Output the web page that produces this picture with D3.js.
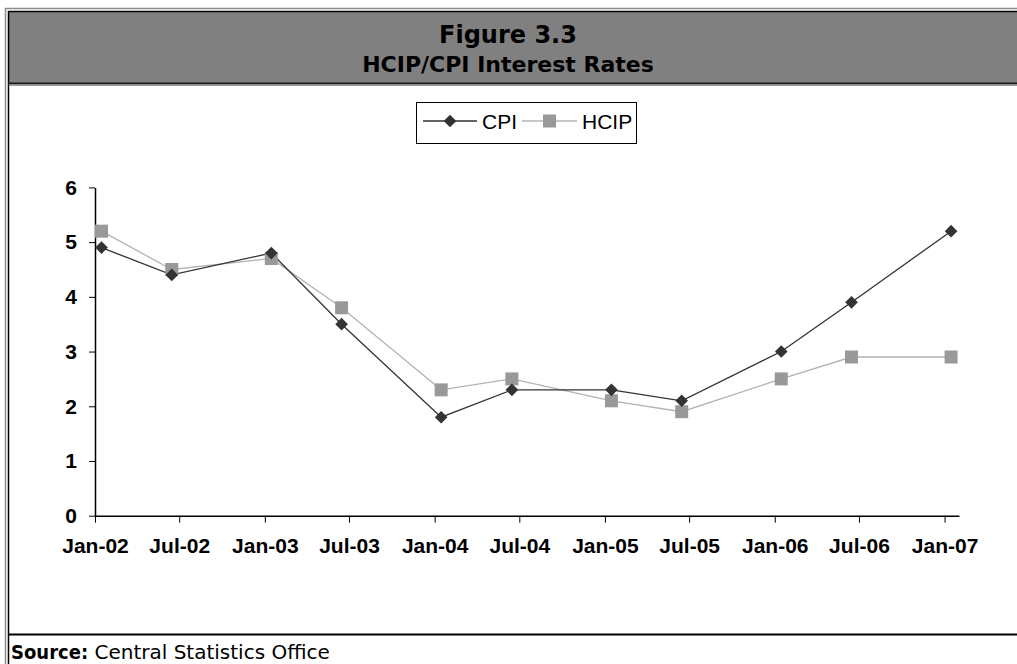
<!DOCTYPE html>
<html>
<head>
<meta charset="utf-8">
<script src="https://cdn.jsdelivr.net/npm/d3@7"></script>
<style>
  body { margin: 0; background: #fff; }
</style>
</head>
<body>
<div id="chart"></div>
<script>
//***************** data *******************/
// observation dates (mid-month readings)
var obsDates = ["2002-01-15","2002-06-15","2003-01-15","2003-06-15","2004-01-15","2004-06-15",
                "2005-01-15","2005-06-15","2006-01-15","2006-06-15","2007-01-15"];
var cpiValues  = [4.9, 4.4, 4.8, 3.5, 1.8, 2.3, 2.3, 2.1, 3.0, 3.9, 5.2];
var hcipValues = [5.2, 4.5, 4.7, 3.8, 2.3, 2.5, 2.1, 1.9, 2.5, 2.9, 2.9];

var tickDates  = ["2002-01-01","2002-07-01","2003-01-01","2003-07-01","2004-01-01","2004-07-01",
                  "2005-01-01","2005-07-01","2006-01-01","2006-07-01","2007-01-01"];
var tickLabels = ["Jan-02","Jul-02","Jan-03","Jul-03","Jan-04","Jul-04",
                  "Jan-05","Jul-05","Jan-06","Jul-06","Jan-07"];
var yTicks = [0, 1, 2, 3, 4, 5, 6];

var seriesNames = ["CPI", "HCIP"];

var parse = d3.timeParse("%Y-%m-%d");

var cpi  = obsDates.map(function(d, i) { return {date: parse(d), value: cpiValues[i]}; });
var hcip = obsDates.map(function(d, i) { return {date: parse(d), value: hcipValues[i]}; });

//************* set dimensions ***************/
var W = 1017, H = 664;
var plot = {left: 95, right: 959, top: 187.4, bottom: 515.7};

var svg = d3.select("#chart")
  .append("svg")
    .attr("width", W)
    .attr("height", H);

//***************** frame *******************/
svg.append("rect")
  .attr("x", 9).attr("y", 12)
  .attr("width", W - 9).attr("height", 71)
  .attr("fill", "#808080");

// outer grey + inner black double border
svg.append("path")
  .attr("d", "M5.5," + H + "V8.5H" + W)
  .attr("fill", "none").attr("stroke", "#8c8c8c").attr("stroke-width", 1.5);
svg.append("path")
  .attr("d", "M8.5," + H + "V11.5H" + W)
  .attr("fill", "none").attr("stroke", "#000").attr("stroke-width", 1.5);

// band bottom rule
svg.append("line")
  .attr("x1", 8).attr("x2", W).attr("y1", 83.5).attr("y2", 83.5)
  .attr("stroke", "#1a1a1a").attr("stroke-width", 2);
svg.append("line")
  .attr("x1", 9).attr("x2", W).attr("y1", 85.5).attr("y2", 85.5)
  .attr("stroke", "#9a9a9a").attr("stroke-width", 1);

// footer rule
svg.append("line")
  .attr("x1", 8).attr("x2", W).attr("y1", 634.5).attr("y2", 634.5)
  .attr("stroke", "#000").attr("stroke-width", 2);

//***************** title *******************/
var titleFont = "'DejaVu Sans', sans-serif";
svg.append("text")
  .attr("x", 508).attr("y", 43)
  .attr("text-anchor", "middle")
  .attr("font-family", titleFont)
  .attr("font-weight", "bold")
  .attr("font-size", "24px")
  .attr("fill", "#000")
  .text("Figure 3.3");
svg.append("text")
  .attr("x", 508).attr("y", 72)
  .attr("text-anchor", "middle")
  .attr("font-family", titleFont)
  .attr("font-weight", "bold")
  .attr("font-size", "22px")
  .attr("fill", "#000")
  .text("HCIP/CPI Interest Rates");

// source
var src = svg.append("text")
  .attr("x", 11).attr("y", 659)
  .attr("font-family", titleFont)
  .attr("font-size", "20px")
  .attr("fill", "#000");
src.append("tspan")
  .attr("font-family", "'DejaVu Sans Condensed', 'DejaVu Sans', sans-serif")
  .attr("font-weight", "bold").text("Source:");
src.append("tspan").text(" Central Statistics Office");

//***************** scales *******************/
var x = d3.scaleTime()
  .domain([parse("2002-01-01"), parse("2007-02-01")])
  .range([plot.left, plot.right]);

var y = d3.scaleLinear()
  .domain([0, 6])
  .range([plot.bottom, plot.top]);

//***************** axes *******************/
var axisFont = "Arial, 'Liberation Sans', sans-serif";

var xAxis = d3.axisBottom(x)
  .tickValues(tickDates.map(parse))
  .tickSize(7)
  .tickSizeOuter(0)
  .tickPadding(15)
  .tickFormat(function(d, i) { return tickLabels[i]; });

var gx = svg.append("g")
  .attr("transform", "translate(0," + plot.bottom + ")")
  .call(xAxis);
gx.select(".domain").attr("stroke", "#000").attr("stroke-width", 1.5);
gx.selectAll(".tick line").attr("stroke", "#000").attr("stroke-width", 1);
gx.selectAll(".tick text")
  .attr("font-family", axisFont)
  .attr("font-weight", "bold")
  .attr("font-size", "21px")
  .attr("fill", "#000");

var yAxis = d3.axisLeft(y)
  .tickValues(yTicks)
  .tickSize(6)
  .tickSizeOuter(0)
  .tickPadding(12)
  .tickFormat(d3.format("d"));

var gy = svg.append("g")
  .attr("transform", "translate(" + plot.left + ",0)")
  .call(yAxis);
gy.select(".domain").attr("stroke", "#000").attr("stroke-width", 1.5);
gy.selectAll(".tick line").attr("stroke", "#000").attr("stroke-width", 1);
gy.selectAll(".tick text")
  .attr("font-family", axisFont)
  .attr("font-weight", "bold")
  .attr("font-size", "21px")
  .attr("fill", "#000");

//***************** lines *******************/
var line = d3.line()
  .x(function(d) { return x(d.date); })
  .y(function(d) { return y(d.value); });

svg.append("path")
  .datum(hcip)
  .attr("d", line)
  .attr("fill", "none")
  .attr("stroke", "#b3b3b3")
  .attr("stroke-width", 1.3);

svg.append("path")
  .datum(cpi)
  .attr("d", line)
  .attr("fill", "none")
  .attr("stroke", "#333")
  .attr("stroke-width", 1.3);

var diamond = d3.symbol().type(d3.symbolSquare).size(80);
var square  = d3.symbol().type(d3.symbolSquare).size(169);

svg.selectAll(".hcip-pt")
  .data(hcip)
  .enter()
  .append("path")
    .attr("class", "hcip-pt")
    .attr("d", square)
    .attr("transform", function(d) { return "translate(" + x(d.date) + "," + y(d.value) + ")"; })
    .attr("fill", "#999999");

svg.selectAll(".cpi-pt")
  .data(cpi)
  .enter()
  .append("path")
    .attr("class", "cpi-pt")
    .attr("d", diamond)
    .attr("transform", function(d) { return "translate(" + x(d.date) + "," + y(d.value) + ") rotate(45)"; })
    .attr("fill", "#333333");

//***************** legend *******************/
var legend = svg.append("g");
legend.append("rect")
  .attr("x", 416.5).attr("y", 102.5)
  .attr("width", 220).attr("height", 41)
  .attr("fill", "#fff")
  .attr("stroke", "#000")
  .attr("stroke-width", 1);

var legendItems = [
  {name: seriesNames[0], x0: 423, x1: 477, color: "#333", mark: diamond, fill: "#333333", rot: 45, tx: 482},
  {name: seriesNames[1], x0: 522, x1: 577, color: "#b3b3b3", mark: square, fill: "#999999", rot: 0, tx: 582}
];
var ly = 121;
legendItems.forEach(function(it) {
  legend.append("line")
    .attr("x1", it.x0).attr("x2", it.x1).attr("y1", ly).attr("y2", ly)
    .attr("stroke", it.color).attr("stroke-width", 1.3);
  legend.append("path")
    .attr("d", it.mark)
    .attr("transform", "translate(" + ((it.x0 + it.x1) / 2) + "," + ly + ") rotate(" + it.rot + ")")
    .attr("fill", it.fill);
  legend.append("text")
    .attr("x", it.tx).attr("y", ly + 7.5)
    .attr("font-family", axisFont)
    .attr("font-size", "21px")
    .attr("fill", "#000")
    .text(it.name);
});
</script>
</body>
</html>
